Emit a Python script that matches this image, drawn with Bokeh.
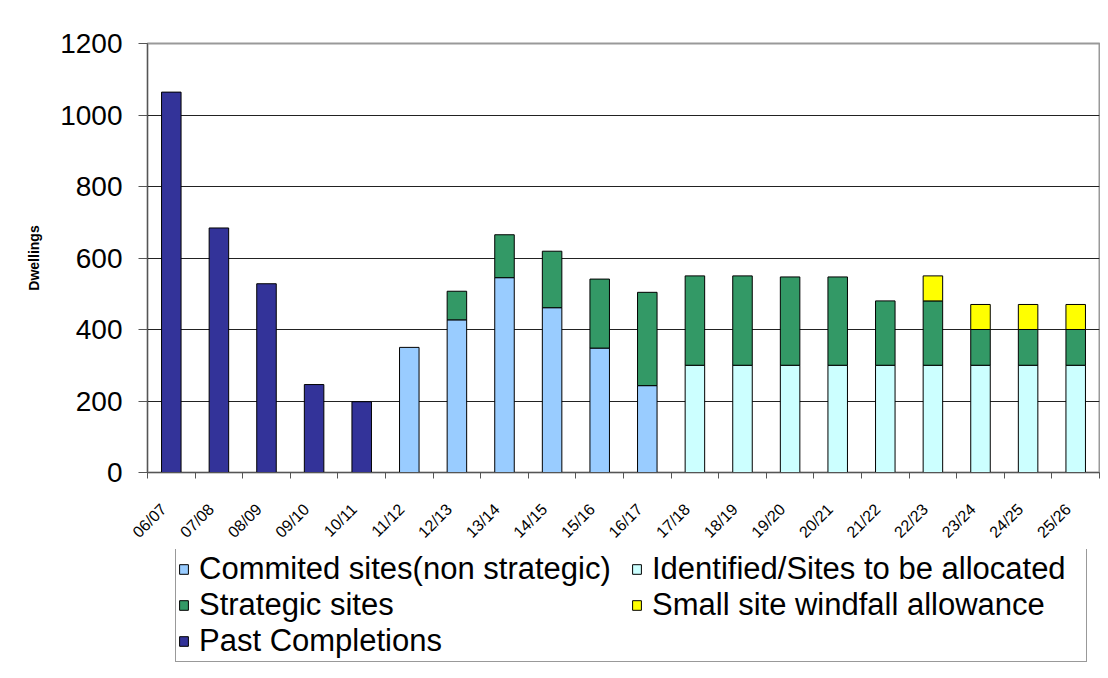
from bokeh.plotting import figure
from bokeh.layouts import column
from bokeh.models import (Range1d, FixedTicker, Legend, LegendItem, ColumnDataSource)
from bokeh.embed import file_html
from bokeh.resources import INLINE

years = ["06/07", "07/08", "08/09", "09/10", "10/11", "11/12", "12/13", "13/14", "14/15", "15/16",
         "16/17", "17/18", "18/19", "19/20", "20/21", "21/22", "22/23", "23/24", "24/25", "25/26"]
past_completions = [1064, 684, 528, 246, 198, 0, 0, 0, 0, 0, 0, 0, 0, 0, 0, 0, 0, 0, 0, 0]
committed_sites = [0, 0, 0, 0, 0, 350, 427, 545, 461, 348, 243, 0, 0, 0, 0, 0, 0, 0, 0, 0]
identified_sites = [0, 0, 0, 0, 0, 0, 0, 0, 0, 0, 0, 300, 300, 300, 300, 300, 300, 300, 300, 300]
strategic_sites = [0, 0, 0, 0, 0, 0, 80, 120, 158, 193, 261, 250, 250, 247, 247, 180, 180, 100, 100, 100]
windfall = [0, 0, 0, 0, 0, 0, 0, 0, 0, 0, 0, 0, 0, 0, 0, 0, 70, 70, 70, 70]
y_ticks = [0, 200, 400, 600, 800, 1000, 1200]

series = [
    ("Past Completions", past_completions, "#333399"),
    ("Commited sites(non strategic)", committed_sites, "#99CCFF"),
    ("Identified/Sites to be allocated", identified_sites, "#CCFFFF"),
    ("Strategic sites", strategic_sites, "#339966"),
    ("Small site windfall allowance", windfall, "#FFFF00"),
]
legend_order = ["Commited sites(non strategic)", "Identified/Sites to be allocated",
                "Strategic sites", "Small site windfall allowance", "Past Completions"]

n = len(years)
centers = [i + 0.5 for i in range(n)]
label_pos = [c - 0.16 for c in centers]   # rotated labels end just left of bar centre

W = 1100
H_MAIN = 549
H_LEG = 113

p = figure(width=W, height=H_MAIN, x_range=Range1d(0, n), y_range=Range1d(0, 1200),
           output_backend="svg", toolbar_location=None,
           min_border_left=147, min_border_top=43, min_border_right=1, min_border_bottom=70)

base = [0] * n
for name, vals, color in series:
    xs, bottoms, tops = [], [], []
    for i, v in enumerate(vals):
        if v > 0:
            xs.append(centers[i]); bottoms.append(base[i]); tops.append(base[i] + v)
        base[i] += v
    src = ColumnDataSource(dict(x=xs, bottom=bottoms, top=tops))
    p.vbar(x="x", bottom="bottom", top="top", width=0.41, source=src,
           fill_color=color, line_color="#000000", line_width=1)

# x axis: ticks at category boundaries, labels near centres
p.xaxis.ticker = FixedTicker(ticks=label_pos, minor_ticks=list(range(n + 1)))
p.xaxis.major_label_overrides = {c: y for c, y in zip(label_pos, years)}
p.xaxis.major_tick_out = 0
p.xaxis.major_tick_in = 0
p.xaxis.minor_tick_out = 6
p.xaxis.minor_tick_in = 0
p.xaxis.major_label_orientation = 0.7854
p.xaxis.major_label_text_font = "Liberation Sans"
p.xaxis.major_label_text_font_size = "16px"
p.xaxis.major_label_text_color = "#000000"
p.xaxis.major_label_standoff = 28
p.xaxis.axis_line_color = "#555555"
p.xaxis.minor_tick_line_color = "#555555"

p.yaxis.ticker = FixedTicker(ticks=y_ticks)
p.yaxis.minor_tick_line_color = None
p.yaxis.major_tick_out = 9
p.yaxis.major_tick_in = 0
p.yaxis.major_label_standoff = 16
p.yaxis.major_label_text_font = "Liberation Sans"
p.yaxis.major_label_text_font_size = "28px"
p.yaxis.major_label_text_color = "#000000"
p.yaxis.axis_line_color = "#555555"
p.yaxis.major_tick_line_color = "#555555"
p.yaxis.axis_label = "Dwellings"
p.yaxis.axis_label_text_font = "Liberation Sans"
p.yaxis.axis_label_text_font_size = "14px"
p.yaxis.axis_label_text_font_style = "bold"
p.yaxis.axis_label_text_color = "#000000"
p.yaxis.axis_label_standoff = 15

p.xgrid.visible = False
p.ygrid.ticker = FixedTicker(ticks=y_ticks)
p.ygrid.grid_line_color = "#222222"
p.ygrid.grid_line_width = 1
p.outline_line_color = "#999999"
p.outline_line_width = 2

# legend panel (separate plot so the legend is not clipped by the chart frame)
pl = figure(width=W, height=H_LEG, x_range=Range1d(0, 1), y_range=Range1d(0, 1),
            output_backend="svg", toolbar_location=None,
            x_axis_location=None, y_axis_location=None,
            min_border_left=0, min_border_right=0, min_border_top=0, min_border_bottom=0)
pl.xgrid.visible = False
pl.ygrid.visible = False
pl.outline_line_color = None

colors = {name: color for name, vals, color in series}
items = []
for nm in legend_order:
    # swatch-only renderer: its one bar has no position, so nothing is drawn
    r = pl.vbar(x=[float("nan")], top=[float("nan")], bottom=[0], width=0.4,
                fill_color=colors[nm], line_color="#000000", line_width=1)
    items.append(LegendItem(label=nm, renderers=[r]))

legend = Legend(items=items, orientation="horizontal", ncols=2, location=(28, 0),
                label_text_font="Liberation Sans", label_text_font_size="31px",
                label_text_color="#000000", glyph_width=11, glyph_height=12,
                label_standoff=10, padding=2, spacing=0, label_height=34, label_width=432,
                border_line_color="#333333", border_line_width=1, margin=0)
pl.add_layout(legend, "center")

layout = column(p, pl, spacing=0)
open("out.html", "w").write(file_html(layout, INLINE))
